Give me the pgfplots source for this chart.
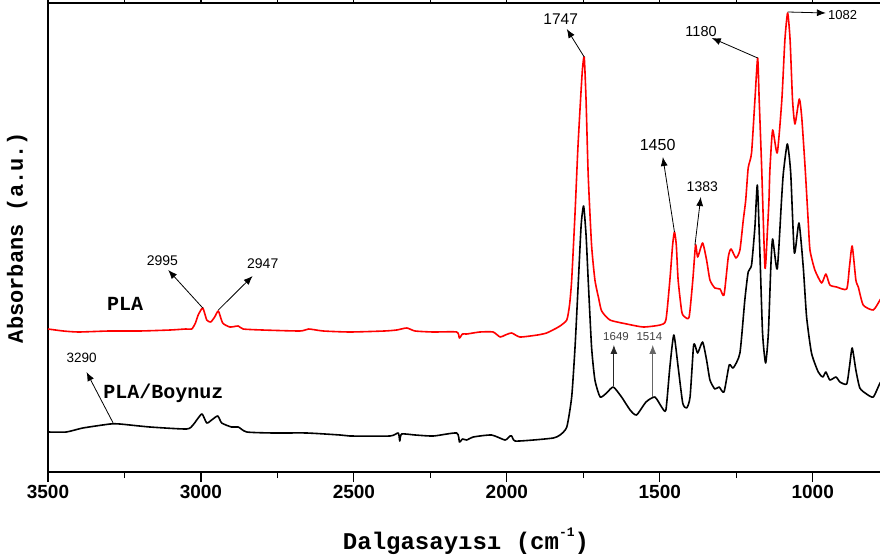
\documentclass[border=0pt]{standalone}
\usepackage{fontspec}
\setmainfont{Liberation Sans}
\newfontfamily\cour{Liberation Mono}
\usepackage{pgfplots}
\pgfplotsset{compat=1.18}
\usetikzlibrary{arrows.meta}

\pgfplotstableread{
x y
3500 141
3450 139
3400 138
3300 139
3200 139
3100 140
3050 141
3030 141
3018 147
3009 155
2994 162
2981 150
2968 148
2955 153
2943 159
2929 147
2905 143
2878 144
2862 141
2800 140
2676 139
2648 141
2600 139
2513 138
2400 139
2360 140
2327 142
2300 139
2241 138
2164 138
2155 132
2145 136
2131 136
2088 138
2045 138
2022 133
2005 135
1984 137
1957 133
1900 135
1870 137
1837 142
1826 144
1804 150
1795 165
1788 190
1777 257
1768 320
1760 365
1753 400
1747 413
1741 370
1734 295
1723 225
1712 190
1700 172
1690 159
1663 150
1608 146
1554 143
1499 145
1480 150
1467 190
1458 225
1452 238
1446 225
1440 190
1428 158
1418 153
1404 153
1392 190
1383 225
1376 213
1360 227
1347 210
1336 190
1320 182
1303 181
1290 175
1276 213
1267 221
1251 212
1238 220
1227 250
1219 270
1211 302
1200 317
1189 370
1180 412
1175 370
1167 303
1156 202
1148 240
1143 270
1140 300
1131 340
1116 317
1101 370
1091 430
1082 457
1074 430
1066 370
1058 346
1044 371
1036 353
1025 303
1015 250
1009 220
993 200
971 187
957 196
944 185
922 183
889 181
880 203
871 224
859 190
851 183
835 165
802 160
780 170
767 176
}\pla

\pgfplotstableread{
x y
3500 38
3440 38
3386 42
3297 46
3265 46
3167 43
3047 41
3026 45
3009 52
2996 56
2981 47
2965 50
2945 54
2932 47
2900 43
2878 43
2850 38
2764 37
2654 37
2545 35
2513 34
2382 34
2355 37
2350 29
2344 36
2300 35
2240 34
2164 37
2155 28
2145 31
2131 30
2110 33
2050 35
2006 30
1990 34
1984 34
1973 29
1913 30
1848 32
1826 35
1804 43
1788 73
1777 123
1766 190
1757 245
1749 264
1741 235
1734 190
1723 123
1712 90
1695 73
1674 77
1652 83
1625 73
1597 60
1576 55
1545 68
1516 73
1494 63
1480 60
1467 103
1454 135
1440 103
1425 67
1412 62
1401 73
1390 123
1385 125
1376 117
1360 128
1347 110
1336 90
1320 81
1306 83
1290 78
1273 105
1260 102
1238 117
1222 170
1211 198
1200 205
1189 243
1181 285
1173 220
1164 137
1154 107
1145 137
1137 203
1131 231
1116 201
1102 270
1096 297
1083 326
1072 297
1060 217
1045 247
1031 203
1020 153
1004 117
982 98
967 93
957 98
944 90
924 93
911 88
889 86
880 103
871 122
859 100
846 82
824 76
802 73
780 87
767 92
}\boy

\begin{document}
\begin{tikzpicture}
\begin{axis}[
  scale only axis, width=836pt, height=469pt,
  x dir=reverse, xmin=767, xmax=3500, ymin=-2, ymax=467,
  axis line style={line width=1.4pt},
  xtick={1000,1500,2000,2500,3000,3500},
  minor x tick num=1,
  ytick=\empty,
  tick align=outside,
  major tick length=10pt, minor tick length=6pt,
  every tick/.style={black, line width=1.2pt},
  /pgf/number format/assume math mode=true,
  /pgf/number format/1000 sep={},
  xticklabel style={font=\fontsize{19}{19}\selectfont\bfseries},
  xlabel={\cour\bfseries Dalgasayısı (cm\raisebox{0.55em}{\fontsize{13}{13}\selectfont -1})},
  xlabel style={font=\fontsize{24}{24}\selectfont, at={(axis description cs:0.5,0)}, anchor=center, yshift=-69pt},
  ylabel={\cour\bfseries Absorbans (a.u.)},
  ylabel style={font=\fontsize{22}{22}\selectfont, at={(axis description cs:-0.0367,0.5)}, anchor=center},
  clip=false,
]
\addplot[red, line width=1.6pt, line join=round, smooth, tension=0.35] table[x=x,y=y] {\pla};
\addplot[black, line width=1.6pt, line join=round, smooth, tension=0.35] table[x=x,y=y] {\boy};

\tikzset{ann/.style={line width=0.8pt, -{Latex[length=9pt,width=7pt]}}}
% PLA annotations
\draw[ann] (axis cs:1747,413) -- (axis cs:1804,441);
\node[font=\fontsize{15.5}{15.5}\selectfont] at (axis cs:1824,451) {1747};
\draw[ann] (axis cs:1180,412) -- (axis cs:1330,432);
\node[font=\fontsize{14.5}{14.5}\selectfont] at (axis cs:1365,438) {1180};
\draw[ann] (axis cs:1082,458) -- (axis cs:957,457);
\node[font=\fontsize{13}{13}\selectfont] at (axis cs:902,455) {1082};
\draw[ann] (axis cs:1452,238) -- (axis cs:1490,313);
\node[font=\fontsize{16}{16}\selectfont] at (axis cs:1507,325) {1450};
\draw[ann] (axis cs:1385,225) -- (axis cs:1366,273);
\node[font=\fontsize{14}{14}\selectfont] at (axis cs:1361,283) {1383};
\draw[ann] (axis cs:2994,162) -- (axis cs:3107,200);
\node[font=\fontsize{14}{14}\selectfont] at (axis cs:3126,209) {2995};
\draw[ann] (axis cs:2943,160) -- (axis cs:2831,194);
\node[font=\fontsize{14}{14}\selectfont] at (axis cs:2798,206) {2947};
% PLA/Boynuz annotations
\draw[ann] (axis cs:3287,47) -- (axis cs:3374,98);
\node[font=\fontsize{13.5}{13.5}\selectfont] at (axis cs:3390,112) {3290};
\draw[ann, black!85] (axis cs:1650,84) -- (axis cs:1650,125);
\node[font=\fontsize{11.5}{11.5}\selectfont, text=black!75] at (axis cs:1643,133) {1649};
\draw[ann, black!60] (axis cs:1523,73) -- (axis cs:1523,125);
\node[font=\fontsize{11.5}{11.5}\selectfont, text=black!75] at (axis cs:1534,133) {1514};
% series names
\node[font=\cour\bfseries\fontsize{20}{20}\selectfont] at (axis cs:3248,166) {PLA};
\node[font=\cour\bfseries\fontsize{20}{20}\selectfont] at (axis cs:3123,77) {PLA/Boynuz};
\end{axis}
\pgfresetboundingbox
\path[use as bounding box] (-48pt,-87pt) rectangle (832pt,472pt);
\end{tikzpicture}
\end{document}
